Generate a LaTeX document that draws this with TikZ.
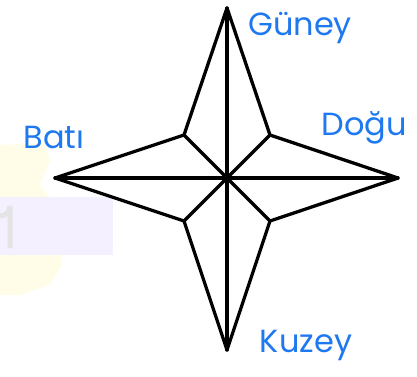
\documentclass[tikz,border=0pt]{standalone}
\usepackage{fontspec}
\setmainfont{Poppins}
\definecolor{lblblue}{HTML}{1E78F0}
\definecolor{faintyellow}{HTML}{FFFDE8}
\definecolor{faintpurple}{HTML}{F4F0FF}
\definecolor{faintgray}{HTML}{E4E4E4}
\begin{document}
\begin{tikzpicture}[x=1pt,y=-1pt,
  starline/.style={line width=3.3pt,line join=round,line cap=round,black},
  lbl/.style={text=lblblue,font=\fontsize{32}{34}\selectfont,inner sep=0pt}]
\useasboundingbox (0,0) rectangle (417,376);
% faint background
\fill[faintyellow] (0,145) -- (45,143) -- (50,160) -- (40,185) -- (55,205) -- (60,240) -- (62,265) -- (50,285) -- (20,295) -- (0,295) -- cycle;
\fill[faintpurple] (0,197) rectangle (113,255);
\draw[faintgray,line width=5pt] (0,216) arc[start angle=90,end angle=0,radius=10] -- (10,248);
% star
\coordinate (T) at (227,8);
\coordinate (B) at (227,350);
\coordinate (L) at (55,178);
\coordinate (R) at (398,178);
\coordinate (TL) at (184,135);
\coordinate (TR) at (270,135);
\coordinate (BL) at (184,221);
\coordinate (BR) at (270,221);
\draw[starline] (T) -- (TR) -- (R) -- (BR) -- (B) -- (BL) -- (L) -- (TL) -- cycle;
\draw[starline] (T) -- (B);
\draw[starline] (L) -- (R);
\draw[starline] (TL) -- (BR);
\draw[starline] (TR) -- (BL);
% labels
\node[lbl] (guney) at (300,28) {Güney};
\node[lbl] (bati) at (54,137) {Batı};
\node[lbl] (dogu) at (364,128) {Doğu};
\node[lbl] (kuzey) at (306,345) {Kuzey};
\end{tikzpicture}
\end{document}
